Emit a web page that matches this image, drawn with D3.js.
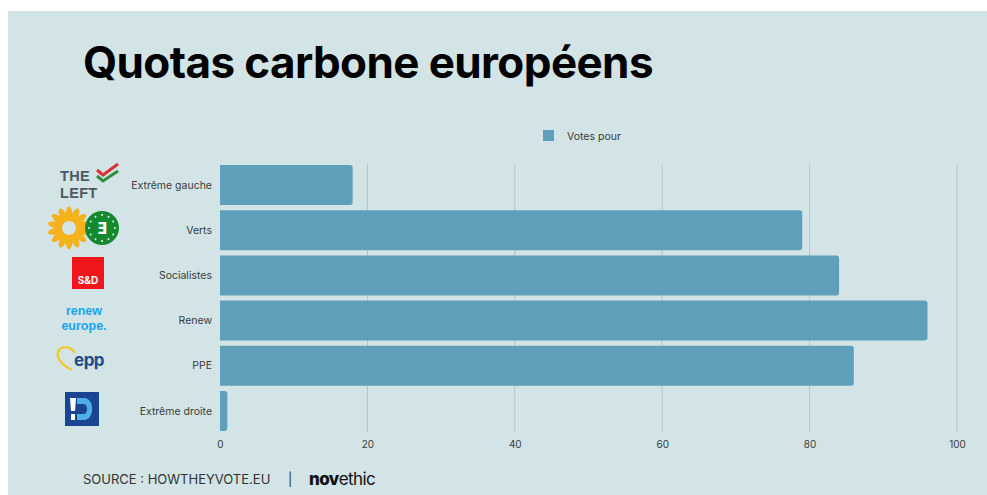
<!DOCTYPE html>
<html><head><meta charset="utf-8">
<script src="https://cdn.jsdelivr.net/npm/d3@7"></script>
<style>
html,body{margin:0;padding:0;background:#fff;}
svg{display:block;}
</style></head>
<body>
<svg id="chart" width="987" height="495"></svg>
<script>
const categories = ["Extrême gauche", "Verts", "Socialistes", "Renew", "PPE", "Extrême droite"];
const votesPour = [18, 79, 84, 96, 86, 1];
const tickValues = [0, 20, 40, 60, 80, 100];
const seriesName = "Votes pour";
const title = "Quotas carbone européens";
const sourceText = "SOURCE : HOWTHEYVOTE.EU";

const svg = d3.select("#chart");
const W = 987, H = 495;
const bg = "#d2e4e6", barColor = "#5f9fba", gridColor = "#b3c5c8", textColor = "#3a3a3a";

svg.append("rect").attr("x", 8).attr("y", 11).attr("width", W - 8).attr("height", H - 11).attr("fill", bg);

svg.append("text").attr("x", 83).attr("y", 78).text(title)
  .attr("font-family", "Inter, 'Open Sans', sans-serif").attr("font-weight", 700)
  .attr("font-size", 44).attr("fill", "#000").attr("letter-spacing", -0.6);

const x = d3.scaleLinear().domain([0, 100]).range([220, 957]);
const y = d3.scaleBand().domain(categories).range([165, 431]).paddingInner(0.115).paddingOuter(0);

// grid
const grid = svg.append("g");
grid.selectAll("line").data(tickValues.filter(d => d > 0)).join("line")
  .attr("x1", d => x(d)).attr("x2", d => x(d)).attr("y1", 164).attr("y2", 432)
  .attr("stroke", gridColor).attr("stroke-width", 1);

// bars
svg.append("g").selectAll("path").data(categories).join("path")
  .attr("d", (c, i) => {
    const x0 = x(0), x1 = x(votesPour[i]), y0 = y(c), h = y.bandwidth(), r = Math.min(3, (x1 - x0) / 2);
    return `M${x0},${y0} H${x1 - r} Q${x1},${y0} ${x1},${y0 + r} V${y0 + h - r} Q${x1},${y0 + h} ${x1 - r},${y0 + h} H${x0} Z`;
  })
  .attr("fill", barColor);

// axis at bottom
const axis = d3.axisBottom(x).tickValues(tickValues).tickSize(0).tickPadding(0);
const ax = svg.append("g").attr("transform", "translate(0,441)").call(axis);
ax.select(".domain").remove();
ax.selectAll("text").attr("font-family", "Inter, sans-serif").attr("font-size", 10).attr("fill", textColor).attr("dy", "0.71em");

// category labels
svg.append("g").selectAll("text").data(categories).join("text")
  .attr("x", 212).attr("y", c => y(c) + y.bandwidth() / 2).attr("dy", "0.35em")
  .attr("text-anchor", "end").attr("font-family", "Inter, sans-serif").attr("font-size", 10.5)
  .attr("fill", textColor).text(c => c);

// legend
svg.append("rect").attr("x", 543).attr("y", 130).attr("width", 11).attr("height", 11).attr("fill", barColor);
svg.append("text").attr("x", 567).attr("y", 136).attr("dy", "0.35em").text(seriesName)
  .attr("font-family", "Inter, sans-serif").attr("font-size", 10.5).attr("fill", textColor);

// footer
const ft = svg.append("text").attr("x", 83).attr("y", 484)
  .attr("font-family", "Inter, sans-serif").attr("font-size", 13).attr("fill", "#333");
ft.append("tspan").text(sourceText);
ft.append("tspan").attr("x", 288).text("|");
const nv = svg.append("text").attr("x", 309).attr("y", 485)
  .attr("font-family", "Inter, sans-serif").attr("font-size", 17).attr("fill", "#111").attr("letter-spacing", -0.6);
nv.append("tspan").attr("font-weight", 800).text("nov");
nv.append("tspan").attr("font-weight", 400).text("ethic");

// logos (decorative)
const lg = svg.append("g");
// THE LEFT
const logoFont = "'Liberation Sans', Arial, sans-serif";
lg.append("text").attr("x", 60).attr("y", 181).text("THE").attr("font-family", logoFont)
  .attr("font-weight", 700).attr("font-size", 14.5).attr("fill", "#4d5866").attr("letter-spacing", 0.3);
lg.append("text").attr("x", 60).attr("y", 198).text("LEFT").attr("font-family", logoFont)
  .attr("font-weight", 700).attr("font-size", 14.5).attr("fill", "#4d5866").attr("letter-spacing", 0.3);
lg.append("path").attr("d", "M97,170 L103,175 L118,164").attr("fill", "none").attr("stroke", "#d8323a").attr("stroke-width", 3);
lg.append("path").attr("d", "M97,176 L103,181 L118,171").attr("fill", "none").attr("stroke", "#2f8f3a").attr("stroke-width", 3);
// sunflower
const sf = lg.append("g").attr("transform", "translate(69,228)");
d3.range(14).forEach(i => {
  sf.append("ellipse").attr("cx", 0).attr("cy", -13).attr("rx", 3.4).attr("ry", 8.5)
    .attr("transform", `rotate(${i * 360 / 14})`).attr("fill", "#f5b21b");
});
sf.append("circle").attr("r", 7).attr("fill", bg);
// green circle
lg.append("circle").attr("cx", 102).attr("cy", 228).attr("r", 17).attr("fill", "#138a2e");
d3.range(12).forEach(i => {
  const a = i * Math.PI / 6;
  lg.append("circle").attr("cx", 102 + 13 * Math.cos(a)).attr("cy", 228 + 13 * Math.sin(a)).attr("r", 0.9).attr("fill", "#fff");
});
lg.append("text").attr("x", 102).attr("y", 234).attr("text-anchor", "middle").text("Ǝ")
  .attr("font-family", "DejaVu Sans, sans-serif").attr("font-weight", 700).attr("font-size", 15).attr("fill", "#fff");
// S&D
lg.append("rect").attr("x", 72).attr("y", 257).attr("width", 32).attr("height", 32).attr("fill", "#f0161c");
lg.append("text").attr("x", 88).attr("y", 284).attr("text-anchor", "middle").text("S&D")
  .attr("font-family", "Inter, sans-serif").attr("font-weight", 700).attr("font-size", 10).attr("fill", "#fff");
// renew europe.
lg.append("text").attr("x", 84).attr("y", 315).attr("text-anchor", "middle").text("renew")
  .attr("font-family", logoFont).attr("font-weight", 700).attr("font-size", 12.5).attr("fill", "#1aa3f0");
lg.append("text").attr("x", 84).attr("y", 330).attr("text-anchor", "middle").text("europe.")
  .attr("font-family", logoFont).attr("font-weight", 700).attr("font-size", 12.5).attr("fill", "#1aa3f0");
// epp
lg.append("path").attr("d", "M75,353 C70,345 60,346 58,352 C56,358 62,365 72,370")
  .attr("fill", "none").attr("stroke", "#f7c61a").attr("stroke-width", 2.2);
lg.append("text").attr("x", 74).attr("y", 366).text("epp")
  .attr("font-family", "Inter, sans-serif").attr("font-weight", 700).attr("font-size", 17).attr("fill", "#1d4d8c").attr("letter-spacing", -0.5);
// ID
lg.append("rect").attr("x", 65).attr("y", 392).attr("width", 34).attr("height", 34).attr("fill", "#1a4491");
lg.append("path").attr("d", "M77,398 H84 C95,398 95,420 84,420 H77 V414 H84 C88,414 88,404 84,404 H77 Z").attr("fill", "#4eaee6");
lg.append("path").attr("d", "M70,398 H76 L75,411 H71 Z").attr("fill", "#fff");
lg.append("rect").attr("x", 71).attr("y", 414).attr("width", 4).attr("height", 6).attr("fill", "#fff");
</script>
</body></html>
